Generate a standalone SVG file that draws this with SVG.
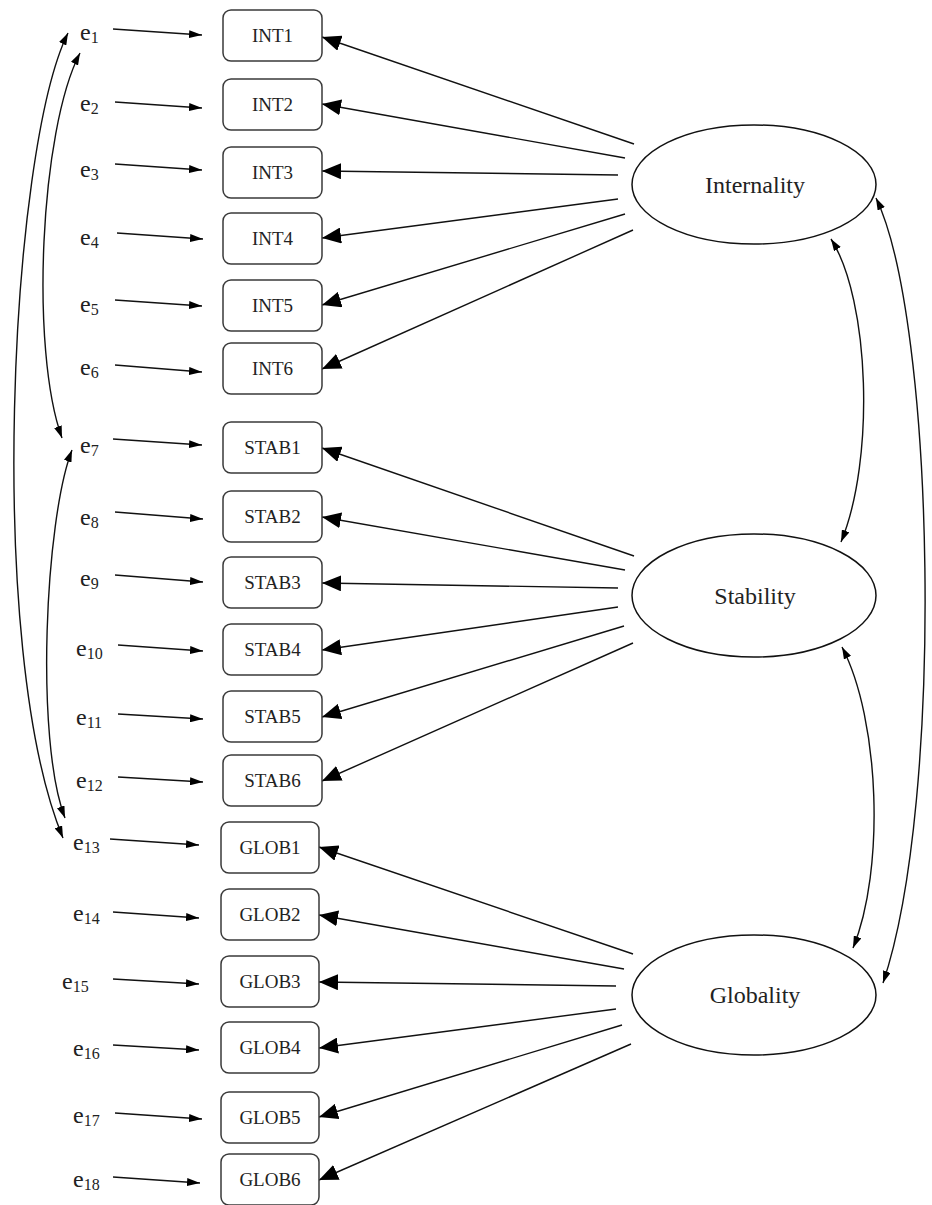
<svg xmlns="http://www.w3.org/2000/svg" width="932" height="1205" viewBox="0 0 932 1205">
<style>
  .box { fill: #fff; stroke: #3a3a3a; stroke-width: 1.5; }
  .lat { fill: #fff; stroke: #111; stroke-width: 1.5; }
  .bt { font-family: "Liberation Serif", "Times New Roman", serif; font-size: 19px; fill: #222; text-anchor: middle; }
  .lt { font-family: "Liberation Serif", "Times New Roman", serif; font-size: 24px; fill: #222; text-anchor: middle; }
  .et { font-family: "Liberation Serif", "Times New Roman", serif; font-size: 24px; fill: #222; }
  .sub { font-size: 16px; }
  .ln { fill: none; stroke: #111; stroke-width: 1.4; }
  .big { marker-end: url(#big); }
  .sm { marker-end: url(#sm); }
  .cv { fill: none; stroke: #111; stroke-width: 1.4; marker-start: url(#cm); marker-end: url(#cm); }
</style>
<defs>
  <marker id="big" markerUnits="userSpaceOnUse" markerWidth="19" markerHeight="16" refX="19" refY="8" orient="auto">
    <path d="M0,0 L19,8 L0,16 z" fill="#000"/>
  </marker>
  <marker id="sm" markerUnits="userSpaceOnUse" markerWidth="13" markerHeight="8" refX="13" refY="4" orient="auto">
    <path d="M0,0 L13,4 L0,8 z" fill="#000"/>
  </marker>
  <marker id="cm" markerUnits="userSpaceOnUse" markerWidth="12" markerHeight="8" refX="12" refY="4" orient="auto-start-reverse">
    <path d="M0,0 L12,4 L0,8 z" fill="#000"/>
  </marker>
</defs>
<rect width="932" height="1205" fill="#fff"/>

<g id="connectors">
  <path class="ln sm" d="M113,29 L202,35"/>
  <path class="ln sm" d="M115,102 L202,108"/>
  <path class="ln sm" d="M115,164 L202,170"/>
  <path class="ln sm" d="M117,233 L203,239"/>
  <path class="ln sm" d="M115,300 L202,306"/>
  <path class="ln sm" d="M115,365 L202,372"/>
  <path class="ln sm" d="M113,439 L202,445"/>
  <path class="ln sm" d="M115,512 L203,519"/>
  <path class="ln sm" d="M115,575 L203,582"/>
  <path class="ln sm" d="M118,645 L203,651"/>
  <path class="ln sm" d="M118,714 L203,719"/>
  <path class="ln sm" d="M118,777 L203,782"/>
  <path class="ln sm" d="M110,839 L199,845"/>
  <path class="ln sm" d="M113,912 L199,918"/>
  <path class="ln sm" d="M113,979 L199,984"/>
  <path class="ln sm" d="M113,1045 L199,1050"/>
  <path class="ln sm" d="M115,1113 L202,1119"/>
  <path class="ln sm" d="M113,1177 L200,1183"/>
  <path class="ln big" d="M634,144 L322,37"/>
  <path class="ln big" d="M625,158 L322,104"/>
  <path class="ln big" d="M618,175 L322,171"/>
  <path class="ln big" d="M618,199 L322,238"/>
  <path class="ln big" d="M625,214 L322,305"/>
  <path class="ln big" d="M633,230 L322,369"/>
  <path class="ln big" d="M634,556 L322,448"/>
  <path class="ln big" d="M625,570 L322,517"/>
  <path class="ln big" d="M618,588 L322,583"/>
  <path class="ln big" d="M618,607 L322,650"/>
  <path class="ln big" d="M624,626 L322,717"/>
  <path class="ln big" d="M633,643 L322,781"/>
  <path class="ln big" d="M633,954 L319,847"/>
  <path class="ln big" d="M624,969 L319,915"/>
  <path class="ln big" d="M616,986 L319,982"/>
  <path class="ln big" d="M616,1009 L319,1048"/>
  <path class="ln big" d="M622,1025 L319,1117"/>
  <path class="ln big" d="M631,1044 L319,1180"/>
  <path class="cv" d="M80,53 C40,130 30,350 62,438"/>
  <path class="cv" d="M68,33 C10,150 -15,650 63,838"/>
  <path class="cv" d="M72,450 C45,520 35,740 65,818"/>
  <path class="cv" d="M831,239 C870,300 875,460 841,542"/>
  <path class="cv" d="M876,198 C935,320 945,800 883,983"/>
  <path class="cv" d="M842,647 C880,720 885,870 853,948"/>
</g>

<g id="INT1"><rect class="box" x="223" y="10" width="99" height="51" rx="8"/><text class="bt" x="272.5" y="42">INT1</text></g>
<g id="INT2"><rect class="box" x="223" y="79" width="99" height="51" rx="8"/><text class="bt" x="272.5" y="111">INT2</text></g>
<g id="INT3"><rect class="box" x="223" y="147" width="99" height="51" rx="8"/><text class="bt" x="272.5" y="179">INT3</text></g>
<g id="INT4"><rect class="box" x="223" y="213" width="99" height="51" rx="8"/><text class="bt" x="272.5" y="245">INT4</text></g>
<g id="INT5"><rect class="box" x="223" y="280" width="99" height="51" rx="8"/><text class="bt" x="272.5" y="312">INT5</text></g>
<g id="INT6"><rect class="box" x="223" y="343" width="99" height="51" rx="8"/><text class="bt" x="272.5" y="375">INT6</text></g>
<g id="STAB1"><rect class="box" x="223" y="422" width="99" height="51" rx="8"/><text class="bt" x="272.5" y="454">STAB1</text></g>
<g id="STAB2"><rect class="box" x="223" y="491" width="99" height="51" rx="8"/><text class="bt" x="272.5" y="523">STAB2</text></g>
<g id="STAB3"><rect class="box" x="223" y="557" width="99" height="51" rx="8"/><text class="bt" x="272.5" y="589">STAB3</text></g>
<g id="STAB4"><rect class="box" x="223" y="624" width="99" height="51" rx="8"/><text class="bt" x="272.5" y="656">STAB4</text></g>
<g id="STAB5"><rect class="box" x="223" y="691" width="99" height="51" rx="8"/><text class="bt" x="272.5" y="723">STAB5</text></g>
<g id="STAB6"><rect class="box" x="223" y="755" width="99" height="51" rx="8"/><text class="bt" x="272.5" y="787">STAB6</text></g>
<g id="GLOB1"><rect class="box" x="221" y="822" width="98" height="51" rx="8"/><text class="bt" x="270" y="854">GLOB1</text></g>
<g id="GLOB2"><rect class="box" x="221" y="889" width="98" height="51" rx="8"/><text class="bt" x="270" y="921">GLOB2</text></g>
<g id="GLOB3"><rect class="box" x="221" y="956" width="98" height="51" rx="8"/><text class="bt" x="270" y="988">GLOB3</text></g>
<g id="GLOB4"><rect class="box" x="221" y="1022" width="98" height="51" rx="8"/><text class="bt" x="270" y="1054">GLOB4</text></g>
<g id="GLOB5"><rect class="box" x="221" y="1092" width="98" height="51" rx="8"/><text class="bt" x="270" y="1124">GLOB5</text></g>
<g id="GLOB6"><rect class="box" x="221" y="1154" width="98" height="51" rx="8"/><text class="bt" x="270" y="1186">GLOB6</text></g>

<g id="Internality"><ellipse class="lat" cx="754" cy="184.5" rx="122" ry="59.5"/><text class="lt" x="755" y="193">Internality</text></g>
<g id="Stability"><ellipse class="lat" cx="754" cy="595.5" rx="122" ry="61.5"/><text class="lt" x="755" y="604">Stability</text></g>
<g id="Globality"><ellipse class="lat" cx="754" cy="995" rx="122" ry="60"/><text class="lt" x="755" y="1003">Globality</text></g>

<g id="e1"><text class="et" x="80" y="40">e<tspan class="sub" dy="3">1</tspan></text></g>
<g id="e2"><text class="et" x="80" y="111">e<tspan class="sub" dy="3">2</tspan></text></g>
<g id="e3"><text class="et" x="80" y="177">e<tspan class="sub" dy="3">3</tspan></text></g>
<g id="e4"><text class="et" x="80" y="245">e<tspan class="sub" dy="3">4</tspan></text></g>
<g id="e5"><text class="et" x="80" y="312">e<tspan class="sub" dy="3">5</tspan></text></g>
<g id="e6"><text class="et" x="80" y="375">e<tspan class="sub" dy="3">6</tspan></text></g>
<g id="e7"><text class="et" x="80" y="453">e<tspan class="sub" dy="3">7</tspan></text></g>
<g id="e8"><text class="et" x="80" y="525">e<tspan class="sub" dy="3">8</tspan></text></g>
<g id="e9"><text class="et" x="80" y="586">e<tspan class="sub" dy="3">9</tspan></text></g>
<g id="e10"><text class="et" x="76" y="656">e<tspan class="sub" dy="3">10</tspan></text></g>
<g id="e11"><text class="et" x="76" y="725">e<tspan class="sub" dy="3">11</tspan></text></g>
<g id="e12"><text class="et" x="76" y="788">e<tspan class="sub" dy="3">12</tspan></text></g>
<g id="e13"><text class="et" x="73" y="850">e<tspan class="sub" dy="3">13</tspan></text></g>
<g id="e14"><text class="et" x="73" y="921">e<tspan class="sub" dy="3">14</tspan></text></g>
<g id="e15"><text class="et" x="62" y="989">e<tspan class="sub" dy="3">15</tspan></text></g>
<g id="e16"><text class="et" x="73" y="1056">e<tspan class="sub" dy="3">16</tspan></text></g>
<g id="e17"><text class="et" x="73" y="1123">e<tspan class="sub" dy="3">17</tspan></text></g>
<g id="e18"><text class="et" x="73" y="1187">e<tspan class="sub" dy="3">18</tspan></text></g>
</svg>
